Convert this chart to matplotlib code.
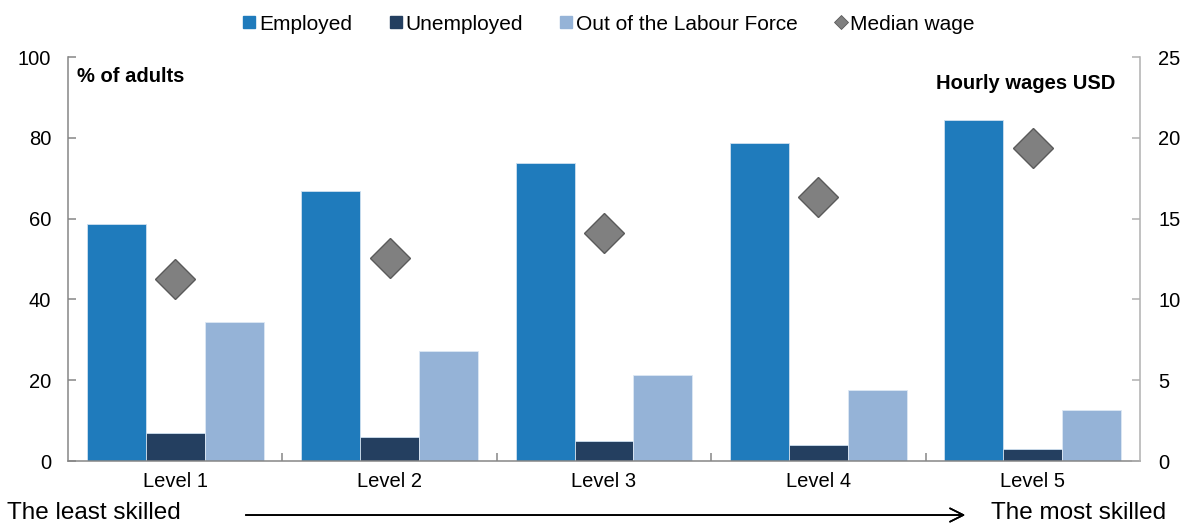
import matplotlib.pyplot as plt
import numpy as np
from matplotlib.lines import Line2D

plt.rcParams['font.family'] = ['Liberation Sans', 'DejaVu Sans']

levels = ['Level 1', 'Level 2', 'Level 3', 'Level 4', 'Level 5']
employed = [58.7, 66.8, 73.7, 78.6, 84.3]
unemployed = [7.0, 6.0, 4.9, 3.9, 3.0]
out_of_lf = [34.3, 27.2, 21.4, 17.6, 12.6]
median_wage = [11.25, 12.55, 14.1, 16.35, 19.35]

c_emp = '#1F7BBC'
c_unemp = '#243F60'
c_olf = '#95B3D7'
c_wage = '#808080'

fig = plt.figure(figsize=(11.92, 5.25), dpi=100)
ax = fig.add_axes([0.057, 0.1219, 0.8994, 0.7695])

x = np.arange(len(levels))
w = 0.275
ax.bar(x - w, employed, w, color=c_emp, edgecolor='#cfe0f0', linewidth=0.6, zorder=2)
ax.bar(x, unemployed, w, color=c_unemp, edgecolor='#cfe0f0', linewidth=0.6, zorder=2)
ax.bar(x + w, out_of_lf, w, color=c_olf, edgecolor='#dde8f4', linewidth=0.6, zorder=2)

ax.set_xlim(-0.5, 4.5)
ax.set_ylim(0, 100)
ax.set_yticks([0, 20, 40, 60, 80, 100])
ax.set_xticks(x)
ax.set_xticklabels(levels)
ax.set_xticks(np.arange(0.5, 4.5, 1), minor=True)
ax.tick_params(axis='x', which='major', length=0, pad=8, labelsize=14.5)
ax.tick_params(axis='x', which='minor', direction='in', length=6, color='#868686', width=1.1)
ax.tick_params(axis='y', direction='in', length=6, color='#868686', width=1.1, pad=12, labelsize=14.5)

ax.spines['top'].set_visible(False)
ax.spines['right'].set_visible(False)
ax.spines['left'].set_color('#868686')
ax.spines['bottom'].set_color('#868686')
ax.spines['left'].set_linewidth(1.1)
ax.spines['bottom'].set_linewidth(1.1)

ax2 = ax.twinx()
ax2.set_ylim(0, 25)
ax2.set_yticks([0, 5, 10, 15, 20, 25])
ax2.plot(x, median_wage, linestyle='none', marker='D', markersize=20,
         markerfacecolor=c_wage, markeredgecolor='#5a5a5a', markeredgewidth=1.0, zorder=3)
ax2.tick_params(axis='y', direction='in', length=6, color='#b0b0b0', width=1.1, pad=13, labelsize=14.5)
for s in ['top', 'left', 'bottom']:
    ax2.spines[s].set_visible(False)
ax2.spines['right'].set_color('#b0b0b0')
ax2.spines['right'].set_linewidth(1.1)

ax.text(0.0085, 0.953, '% of adults', transform=ax.transAxes, fontsize=14.5,
        fontweight='bold', ha='left', va='center')
ax.text(0.977, 0.935, 'Hourly wages USD', transform=ax.transAxes, fontsize=14.5,
        fontweight='bold', ha='right', va='center')

handles = [
    Line2D([], [], linestyle='none', marker='s', markersize=8.5, color=c_emp),
    Line2D([], [], linestyle='none', marker='s', markersize=8.5, color=c_unemp),
    Line2D([], [], linestyle='none', marker='s', markersize=8.5, color=c_olf),
    Line2D([], [], linestyle='none', marker='D', markersize=7,
           markerfacecolor=c_wage, markeredgecolor='#5a5a5a', markeredgewidth=0.6),
]
labels = ['Employed', 'Unemployed', 'Out of the Labour Force', 'Median wage']
fig.legend(handles, labels, loc='center', bbox_to_anchor=(0.511, 0.954), ncol=4,
           frameon=False, fontsize=15, handlelength=0.6, handletextpad=0.15,
           columnspacing=1.8, borderpad=0)

fig.text(0.006, 0.023, 'The least skilled', fontsize=17.5, ha='left', va='center')
fig.text(0.978, 0.023, 'The most skilled', fontsize=17.5, ha='right', va='center')
fig.add_artist(plt.annotate('', xy=(968 / 1192, 0.019), xytext=(243 / 1192, 0.019),
                            xycoords='figure fraction', textcoords='figure fraction',
                            arrowprops=dict(arrowstyle='->', color='black', lw=1.2,
                                            mutation_scale=24)))

fig.savefig('out.png', dpi=100)
